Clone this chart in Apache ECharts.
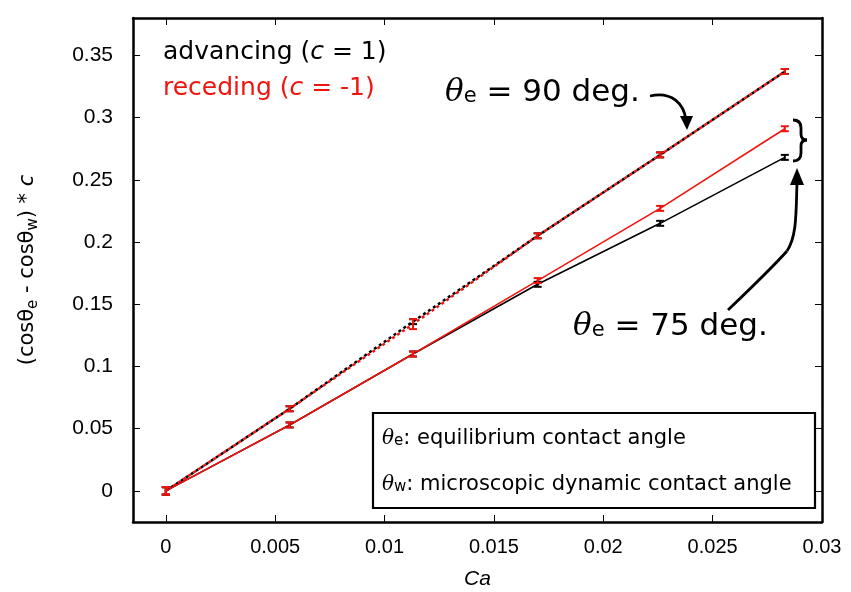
<!DOCTYPE html>
<html>
<head>
<meta charset="utf-8">
<script src="https://cdn.jsdelivr.net/npm/echarts@6/dist/echarts.min.js"></script>
<style>
  html, body { margin: 0; padding: 0; background: #fff; }
  #main { width: 851px; height: 592px; }
</style>
</head>
<body>
<div id="main"></div>
<script>
// capillary numbers
var ca = [0, 0.00566, 0.0113, 0.0170, 0.0226, 0.0283];

// theta_e = 90 deg.
var adv90 = [0, 0.066, 0.136, 0.205, 0.270, 0.337];
var adv90Err = [0.003, 0.002, 0.002, 0.002, 0.002, 0.002];
var rec90 = [0, 0.066, 0.134, 0.205, 0.270, 0.337];
var rec90Err = [0.003, 0.002, 0.004, 0.002, 0.002, 0.002];

// theta_e = 75 deg.
var adv75 = [0, 0.053, 0.110, 0.166, 0.215, 0.268];
var adv75Err = [0.003, 0.002, 0.002, 0.002, 0.002, 0.002];
var rec75 = [0, 0.053, 0.110, 0.169, 0.227, 0.291];
var rec75Err = [0.003, 0.002, 0.002, 0.002, 0.002, 0.002];

var xTicks = [0, 0.005, 0.01, 0.015, 0.02, 0.025, 0.03];
var yTicks = [0, 0.05, 0.1, 0.15, 0.2, 0.25, 0.3, 0.35];

var FONT = 'Liberation Sans, Arial, Helvetica, sans-serif';
var WIDE = 'DejaVu Sans, sans-serif';
var MATH = 'DejaVu Serif, serif';
var RED = '#f0140f';

function pts(ys) {
  return ca.map(function (x, i) { return [x, ys[i]]; });
}

// 误差棒
function errBars(name, ys, errs, color) {
  return {
    name: name,
    type: 'custom',
    z: 5,
    data: ca.map(function (x, i) { return [x, ys[i], errs[i]]; }),
    renderItem: function (params, api) {
      var x = api.value(0), y = api.value(1), e = api.value(2);
      var lo = api.coord([x, y - e]);
      var hi = api.coord([x, y + e]);
      var w = 4;
      var st = { stroke: color, lineWidth: 2 };
      return {
        type: 'group',
        children: [
          { type: 'line', shape: { x1: lo[0], y1: lo[1], x2: hi[0], y2: hi[1] }, style: st },
          { type: 'line', shape: { x1: lo[0] - w, y1: lo[1], x2: lo[0] + w, y2: lo[1] }, style: st },
          { type: 'line', shape: { x1: hi[0] - w, y1: hi[1], x2: hi[0] + w, y2: hi[1] }, style: st }
        ]
      };
    }
  };
}

function line(name, ys, color, dotted, offset) {
  return {
    name: name,
    type: 'line',
    data: pts(ys),
    symbol: 'none',
    z: 3,
    lineStyle: {
      color: color,
      width: dotted ? 2.5 : 1.6,
      type: dotted ? [3, 3] : 'solid',
      dashOffset: offset || 0
    }
  };
}

var axLine = { show: true, onZero: false, lineStyle: { color: '#000', width: 2.5 } };
function ticks(vals) {
  return { show: true, inside: true, length: 7, lineStyle: { color: '#000', width: 1 }, customValues: vals };
}

// θ + 下标 + 正文
function thetaText(sub, rest, tSize, sSize, nSize, pad, color) {
  return {
    text: '{t|θ}{s|' + sub + '}{n|' + rest + '}',
    rich: {
      t: { fontFamily: MATH, fontSize: tSize, fontStyle: 'italic', fill: color || '#000' },
      s: { fontFamily: WIDE, fontSize: sSize, fill: color || '#000', padding: [pad, 0, 0, 0] },
      n: { fontFamily: WIDE, fontSize: nSize, fill: color || '#000' }
    }
  };
}

var chart = echarts.init(document.getElementById('main'));

var stroke = { stroke: '#000', lineWidth: 2.8, fill: null };

chart.setOption({
  animation: false,
  backgroundColor: '#fff',
  grid: { left: 133, right: 29, top: 18, bottom: 70, outerBoundsMode: 'none', containLabel: false },
  xAxis: [{
    type: 'value', min: -0.0015, max: 0.03,
    name: 'Ca', nameLocation: 'middle', nameGap: 47,
    nameTextStyle: { fontFamily: FONT, fontSize: 21, fontStyle: 'italic', color: '#000' },
    axisLine: axLine,
    axisTick: ticks(xTicks),
    splitLine: { show: false },
    axisLabel: {
      fontFamily: FONT, fontSize: 20, color: '#000', margin: 15,
      customValues: xTicks,
      formatter: function (v) { return String(+v.toFixed(3)); }
    }
  }, {
    type: 'value', min: -0.0015, max: 0.03, position: 'top',
    axisLine: axLine,
    axisTick: ticks(xTicks),
    splitLine: { show: false },
    axisLabel: { show: false }
  }],
  yAxis: [{
    type: 'value', min: -0.025, max: 0.38,
    name: '{n|(cosθ}{s|e}{n| - cosθ}{s|w}{n|) * }{i|c}',
    nameLocation: 'middle', nameGap: 90, nameRotate: 90,
    nameTextStyle: {
      color: '#000',
      rich: {
        n: { fontFamily: WIDE, fontSize: 21, color: '#000', lineHeight: 30 },
        s: { fontFamily: WIDE, fontSize: 15, color: '#000', lineHeight: 30, padding: [11, 0, 0, 0] },
        i: { fontFamily: WIDE, fontSize: 21, fontStyle: 'italic', color: '#000', lineHeight: 30 }
      }
    },
    axisLine: axLine,
    axisTick: ticks(yTicks),
    splitLine: { show: false },
    axisLabel: {
      fontFamily: FONT, fontSize: 21, color: '#000', margin: 20,
      customValues: yTicks,
      formatter: function (v) { return String(+v.toFixed(2)); }
    }
  }, {
    type: 'value', min: -0.025, max: 0.38, position: 'right',
    axisLine: axLine,
    axisTick: ticks(yTicks),
    splitLine: { show: false },
    axisLabel: { show: false }
  }],
  series: [
    line('adv90', adv90, '#000', true, 0),
    line('rec90', rec90, RED, true, 3),
    line('adv75', adv75, '#000', false),
    line('rec75', rec75, RED, false),
    errBars('adv90e', adv90, adv90Err, '#000'),
    errBars('adv75e', adv75, adv75Err, '#000'),
    errBars('rec90e', rec90, rec90Err, RED),
    errBars('rec75e', rec75, rec75Err, RED)
  ],
  graphic: [
    // 图例文字
    {
      type: 'text', left: 163, top: 40, z: 10,
      style: {
        text: '{n|advancing (}{i|c}{n| = 1)}',
        rich: {
          n: { fontFamily: WIDE, fontSize: 25, fill: '#000' },
          i: { fontFamily: WIDE, fontSize: 25, fontStyle: 'italic', fill: '#000' }
        }
      }
    },
    {
      type: 'text', left: 163, top: 76, z: 10,
      style: {
        text: '{n|receding (}{i|c}{n| = -1)}',
        rich: {
          n: { fontFamily: WIDE, fontSize: 25, fill: RED },
          i: { fontFamily: WIDE, fontSize: 25, fontStyle: 'italic', fill: RED }
        }
      }
    },
    // θe = 90 deg.
    { type: 'text', left: 445, top: 77, z: 10, style: thetaText('e', ' = 90 deg.', 31, 21, 31, 9) },
    {
      type: 'bezierCurve', z: 10,
      shape: { x1: 650, y1: 96, cpx1: 672, cpy1: 91, cpx2: 684, cpy2: 104, x2: 686, y2: 120 },
      style: stroke
    },
    {
      type: 'polygon', z: 10,
      shape: { points: [[687, 130], [680, 116], [693, 116]] },
      style: { fill: '#000' }
    },
    // θe = 75 deg.
    { type: 'text', left: 573, top: 311, z: 10, style: thetaText('e', ' = 75 deg.', 31, 21, 31, 9) },
    {
      type: 'bezierCurve', z: 10,
      shape: { x1: 728, y1: 310, cpx1: 772, cpy1: 268, x2: 787, y2: 251 },
      style: stroke
    },
    {
      type: 'bezierCurve', z: 10,
      shape: { x1: 787, y1: 251, cpx1: 797, cpy1: 236, cpx2: 796, cpy2: 212, x2: 797, y2: 182 },
      style: stroke
    },
    {
      type: 'polygon', z: 10,
      shape: { points: [[797, 168], [790, 185], [804, 185]] },
      style: { fill: '#000' }
    },
    // 花括号
    {
      type: 'bezierCurve', z: 10,
      shape: { x1: 793, y1: 120, cpx1: 801, cpy1: 120, x2: 801, y2: 128 }, style: stroke
    },
    { type: 'line', z: 10, shape: { x1: 801, y1: 128, x2: 801, y2: 134 }, style: stroke },
    {
      type: 'bezierCurve', z: 10,
      shape: { x1: 801, y1: 134, cpx1: 801, cpy1: 140, x2: 807, y2: 140 }, style: stroke
    },
    {
      type: 'bezierCurve', z: 10,
      shape: { x1: 807, y1: 140, cpx1: 801, cpy1: 140, x2: 801, y2: 146 }, style: stroke
    },
    { type: 'line', z: 10, shape: { x1: 801, y1: 146, x2: 801, y2: 153 }, style: stroke },
    {
      type: 'bezierCurve', z: 10,
      shape: { x1: 801, y1: 153, cpx1: 801, cpy1: 161, x2: 793, y2: 161 }, style: stroke
    },
    // 说明框
    {
      type: 'rect', z: 10,
      shape: { x: 373, y: 413, width: 442, height: 95 },
      style: { fill: '#fff', stroke: '#000', lineWidth: 2.2 }
    },
    { type: 'text', left: 382, top: 428, z: 11, style: thetaText('e', ': equilibrium contact angle', 20, 15, 21, 5) },
    { type: 'text', left: 382, top: 474, z: 11, style: thetaText('w', ': microscopic dynamic contact angle', 20, 15, 21, 5) }
  ]
});
</script>
</body>
</html>
